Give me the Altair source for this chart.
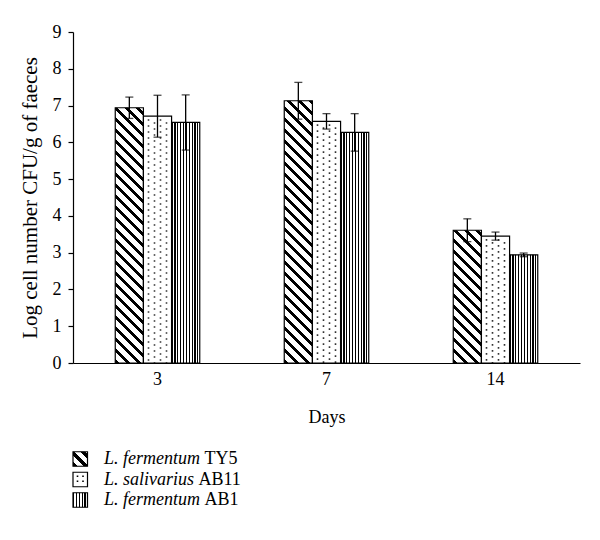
import altair as alt
import pandas as pd

FONT = "Liberation Serif"

# ---------------- data ----------------
DAYS = ["3", "7", "14"]
SPECIES = ["L. fermentum", "L. salivarius", "L. fermentum"]
STRAINS = ["TY5", "AB11", "AB1"]
SERIES = [f"{s} {t}" for s, t in zip(SPECIES, STRAINS)]
TY5_MEAN = [6.94, 7.13, 3.61]
AB11_MEAN = [6.71, 6.57, 3.45]
AB1_MEAN = [6.54, 6.27, 2.94]
TY5_ERR = [0.29, 0.50, 0.31]
AB11_ERR = [0.57, 0.21, 0.11]
AB1_ERR = [0.75, 0.51, 0.05]
Y_TICKS = list(range(10))
Y_TITLE = "Log cell number CFU/g of faeces"
X_TITLE = "Days"

# ---------------- layout / style ----------------
W, H = 507, 331
Y_MAX = 9
PAD_IN, PAD_OUT = 0.5, 0.25
STEP = W / (len(DAYS) - PAD_IN + 2 * PAD_OUT)
BAR_W = STEP * (1 - PAD_IN) / len(SERIES)
LEG_Y0, LEG_STEP = 427, 20.5
LEG_TEXT_X = 31
LEG_FS = 18
SW = 14.5

# Times-like italic widths (per 1000 em) to place the roman strain after the italic species
TIMES_I = {"L": 556, ".": 250, " ": 250, "f": 278, "e": 444, "r": 389, "m": 722, "n": 500,
           "t": 278, "u": 500, "s": 389, "a": 500, "l": 278, "i": 278, "v": 444}


def text_w(s, fs):
    return sum(TIMES_I.get(c, 500) for c in s) * fs / 1000.0


def stops(n, frac):
    out = []
    k = 0
    while k < n:
        a = k / n
        b = min((k + frac) / n, 1.0)
        c = min((k + 1) / n, 1.0)
        out += [{"offset": a, "color": "black"}, {"offset": b, "color": "black"},
                {"offset": b, "color": "white"}, {"offset": c, "color": "white"}]
        k += 1
    return out


def diag(w, h, period=11.0, frac=0.42):
    s = (w + h) / (w * w + h * h)
    return {"gradient": "linear", "x1": 0, "y1": 1, "x2": w * s, "y2": 1 - h * s,
            "stops": stops((w + h) / period, frac)}


def vert(w, period=2.85, frac=0.42):
    return {"gradient": "linear", "x1": 0, "y1": 0, "x2": 1, "y2": 0,
            "stops": stops(w / period, frac)}


rows = []
for i, d in enumerate(DAYS):
    for s, m, e in zip(SERIES, [TY5_MEAN, AB11_MEAN, AB1_MEAN], [TY5_ERR, AB11_ERR, AB1_ERR]):
        rows.append({"day": d, "series": s, "mean": m[i], "lo": m[i] - e[i],
                     "hi": m[i] + e[i], "zero": 0})
df = pd.DataFrame(rows)
leg_df = pd.DataFrame({"row": [0, 1, 2], "species": SPECIES, "strain": STRAINS})

xaxis = alt.Axis(labelAngle=0, ticks=False, domainColor="black", domainWidth=1.2,
                 labelFont=FONT, labelFontSize=18, labelColor="black", labelPadding=7,
                 titleFont=FONT, titleFontSize=18, titleFontWeight="normal",
                 titleColor="black", titlePadding=20)
yaxis = alt.Axis(values=Y_TICKS, grid=False, domainColor="black", domainWidth=1.2,
                 tickColor="black", tickWidth=1.2, tickSize=5,
                 labelFont=FONT, labelFontSize=18, labelColor="black", labelPadding=7,
                 titleFont=FONT, titleFontSize=21, titleFontWeight="normal",
                 titleColor="black", titlePadding=12)

xs = alt.Scale(domain=DAYS, paddingInner=PAD_IN, paddingOuter=PAD_OUT)
ys = alt.Scale(domain=[0, Y_MAX], nice=False)
X = alt.X("day:N", scale=xs, sort=DAYS, title=X_TITLE, axis=xaxis)
XO = alt.XOffset("series:N", scale=alt.Scale(domain=SERIES, paddingInner=0, paddingOuter=0),
                 sort=SERIES)


def Yf(field):
    return alt.Y(f"{field}:Q", scale=ys, title=Y_TITLE, axis=yaxis)


base = alt.Chart(df)
layers = []

# L. fermentum TY5: diagonal hatch (gradient built per bar height)
for i, d in enumerate(DAYS):
    h = TY5_MEAN[i] / Y_MAX * H
    layers.append(
        base.transform_filter(f"datum.series == '{SERIES[0]}' && datum.day == '{d}'")
        .mark_bar(fill=diag(BAR_W, h), stroke="black", strokeWidth=1.2)
        .encode(x=X, xOffset=XO, y=Yf("mean"))
    )

# L. salivarius AB11: white with dots
layers.append(
    base.transform_filter(f"datum.series == '{SERIES[1]}'")
    .mark_bar(fill="white", stroke="black", strokeWidth=1.2)
    .encode(x=X, xOffset=XO, y=Yf("mean"))
)
for j, off in enumerate([-9, -3, 3, 9]):
    layers.append(
        base.transform_filter(f"datum.series == '{SERIES[1]}'")
        .mark_rule(xOffset=off, yOffset=3, strokeDash=[1.6, 4.4],
                   strokeDashOffset=(3 if j % 2 else 0), strokeWidth=1.6, color="black",
                   opacity=0.8)
        .encode(x=X, y=Yf("mean"), y2="zero:Q")
    )

# L. fermentum AB1: vertical stripes
layers.append(
    base.transform_filter(f"datum.series == '{SERIES[2]}'")
    .mark_bar(fill=vert(BAR_W), stroke="black", strokeWidth=1.2)
    .encode(x=X, xOffset=XO, y=Yf("mean"))
)

# error bars
layers.append(base.mark_rule(color="black", strokeWidth=1.3)
              .encode(x=X, xOffset=XO, y=Yf("lo"), y2="hi:Q"))
for f in ["hi", "lo"]:
    layers.append(base.mark_tick(size=8, thickness=1.3, color="black")
                  .encode(x=X, xOffset=XO, y=Yf(f)))

# legend
leg = alt.Chart(leg_df)
swatch_fill = [diag(SW, SW), "white", vert(SW)]
for i in range(len(SERIES)):
    cy = LEG_Y0 + i * LEG_STEP
    sel = leg.transform_filter(f"datum.row == {i}")
    layers.append(sel.mark_rect(fill=swatch_fill[i], stroke="black", strokeWidth=1.2)
                  .encode(x=alt.value(0), x2=alt.value(SW),
                          y=alt.value(cy - SW / 2), y2=alt.value(cy + SW / 2)))
    if i == 1:
        for xx in [4.5, 10]:
            layers.append(sel.mark_rule(strokeDash=[1.6, 3.4], strokeWidth=1.6, color="black")
                          .encode(x=alt.value(xx), y=alt.value(cy - 4), y2=alt.value(cy + 5)))
    layers.append(sel.mark_text(align="left", baseline="middle", font=FONT, fontSize=LEG_FS,
                                fontStyle="italic", color="black")
                  .encode(text="species:N", x=alt.value(LEG_TEXT_X), y=alt.value(cy)))
    sx = LEG_TEXT_X + text_w(SPECIES[i] + " ", LEG_FS)
    layers.append(sel.mark_text(align="left", baseline="middle", font=FONT, fontSize=LEG_FS,
                                color="black")
                  .encode(text="strain:N", x=alt.value(sx), y=alt.value(cy)))

chart = (
    alt.layer(*layers)
    .properties(width=W, height=H, autosize=alt.AutoSizeParams(type="none"),
                padding={"left": 65, "top": 24, "right": 12, "bottom": 169},
                background="white")
    .configure_view(stroke=None)
)

chart.save("out.html", embed_options={"renderer": "svg", "actions": False})
